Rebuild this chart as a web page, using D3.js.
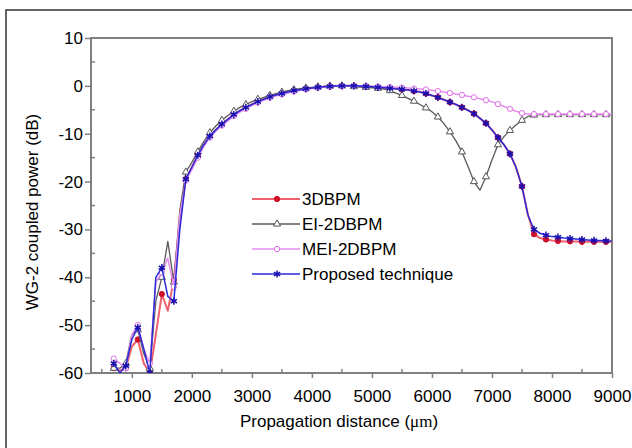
<!DOCTYPE html>
<html>
<head>
<meta charset="utf-8">
<script src="https://cdnjs.cloudflare.com/ajax/libs/d3/7.8.5/d3.min.js"></script>
<style>
  body { margin: 0; background: #fff; }
  svg { display: block; font-family: "Liberation Sans", Arial, sans-serif; }
</style>
</head>
<body>
<div id="chart"></div>
<script>
// propagation distance grid (um)
const dist = d3.range(700, 9001, 100)

const bpm3d = [
  -59, -59.5, -59, -54.5, -53, -58, -60, -52, -43.5, -47, -40.5, -28,
  -19.5, -17, -14.5, -12.3, -10.5, -9.2, -8, -7, -6, -5.2, -4.5, -3.9,
  -3.3, -2.8, -2.3, -1.9, -1.6, -1.3, -1.0, -0.8, -0.6, -0.45, -0.3, -0.2,
  -0.1, -0.05, 0, 0, 0, -0.05, -0.1, -0.2, -0.3, -0.4, -0.5, -0.6,
  -0.7, -0.85, -1.05, -1.3, -1.6, -2.0, -2.4, -2.9, -3.4, -3.9, -4.5, -5.1,
  -5.8, -6.8, -7.8, -9.2, -10.8, -12.3, -14.2, -17, -21, -27, -31, -31.8,
  -32.1, -32.3, -32.4, -32.5, -32.5, -32.5, -32.6, -32.6, -32.6, -32.6, -32.6, -32.6
]

const ei2d = [
  -59, -59, -58, -52, -51, -56, -59, -45, -40, -32.5, -41, -26,
  -18, -16, -13.8, -11.6, -9.8, -8.4, -7.2, -6.2, -5.3, -4.5, -3.9, -3.3,
  -2.8, -2.4, -2.0, -1.6, -1.3, -1.0, -0.8, -0.6, -0.45, -0.3, -0.2, -0.1,
  -0.05, 0, 0, -0.05, -0.15, -0.25, -0.3, -0.4, -0.5, -0.7, -1.0, -1.5,
  -2.0, -2.6, -3.2, -3.9, -4.6, -5.4, -6.5, -7.9, -9.6, -11.5, -13.8, -16.8,
  -20, -21.8, -19, -15.5, -12.3, -10.6, -9.3, -8.2, -7.2, -6.4, -6.1, -6.0,
  -6.0, -6.0, -6.0, -6.0, -6.0, -6.0, -6.0, -6.0, -6.0, -6.0, -6.0, -6.0
]

const mei2d = [
  -57, -58, -59, -52, -50, -55, -58, -41, -39, -36, -42, -27,
  -19.8, -17.5, -15, -12.7, -10.8, -9.5, -8.3, -7.3, -6.3, -5.5, -4.8, -4.1,
  -3.5, -3.0, -2.5, -2.1, -1.8, -1.5, -1.2, -0.95, -0.75, -0.55, -0.4, -0.3,
  -0.2, -0.1, -0.05, 0, 0, 0, -0.05, -0.1, -0.15, -0.2, -0.25, -0.3,
  -0.35, -0.45, -0.55, -0.65, -0.75, -0.9, -1.1, -1.3, -1.5, -1.7, -1.9, -2.15,
  -2.4, -2.7, -3.0, -3.3, -3.8, -4.3, -4.8, -5.3, -5.7, -5.9, -5.9, -5.9,
  -5.9, -5.9, -5.9, -5.9, -5.9, -5.9, -5.9, -5.9, -5.9, -5.9, -5.9, -5.9
]

const proposed = [
  -58, -60, -58.5, -53, -50.5, -55, -60, -40, -38, -44, -45, -30,
  -19.5, -17, -14.5, -12.3, -10.5, -9.2, -8, -7, -6, -5.2, -4.5, -3.9,
  -3.3, -2.8, -2.3, -1.9, -1.6, -1.3, -1.0, -0.8, -0.6, -0.45, -0.3, -0.2,
  -0.1, -0.05, 0, 0, 0, -0.05, -0.1, -0.2, -0.3, -0.4, -0.5, -0.6,
  -0.7, -0.85, -1.05, -1.3, -1.6, -2.0, -2.4, -2.9, -3.4, -3.9, -4.5, -5.1,
  -5.8, -6.8, -7.8, -9.2, -10.8, -12.3, -14.2, -17, -21, -27, -30, -30.8,
  -31.2, -31.5, -31.6, -31.8, -31.9, -32, -32.1, -32.2, -32.3, -32.3, -32.4, -32.4
]

const seriesNames = ["3DBPM", "EI-2DBPM", "MEI-2DBPM", "Proposed technique"]
const xTicks = [1000, 2000, 3000, 4000, 5000, 6000, 7000, 8000, 9000]
const yTicks = [10, 0, -10, -20, -30, -40, -50, -60]

const W = 632, H = 448
const plot = {left: 91, right: 612, top: 38, bottom: 373}

const svg = d3.select("#chart").append("svg")
    .attr("width", W)
    .attr("height", H)

// outer frame
svg.append("rect")
    .attr("x", 6).attr("y", 10)
    .attr("width", 640).attr("height", 450)
    .attr("fill", "none")
    .attr("stroke", "#333")
    .attr("stroke-width", 1.5)

const x = d3.scaleLinear().domain([320, 9000]).range([plot.left, plot.right])
const y = d3.scaleLinear().domain([-60, 10]).range([plot.bottom, plot.top])

// plot box
svg.append("rect")
    .attr("x", plot.left).attr("y", plot.top)
    .attr("width", plot.right - plot.left)
    .attr("height", plot.bottom - plot.top)
    .attr("fill", "none")
    .attr("stroke", "#808080")
    .attr("stroke-width", 2)

// axes
const xAxis = svg.append("g")
    .attr("transform", "translate(0," + plot.bottom + ")")
    .call(d3.axisBottom(x).tickValues(xTicks).tickSize(5).tickPadding(12).tickFormat(d => String(d)))
xAxis.selectAll(".tick line").attr("stroke", "#808080").attr("stroke-width", 1.5)
xAxis.select(".domain").remove()
xAxis.selectAll("text").attr("font-size", 17).attr("fill", "#000").attr("font-family", "Liberation Sans, Arial, sans-serif")

svg.append("g").selectAll("line")
    .data(d3.range(500, 9000, 1000))
    .join("line")
    .attr("x1", d => x(d)).attr("x2", d => x(d))
    .attr("y1", plot.bottom).attr("y2", plot.bottom - 4)
    .attr("stroke", "#808080").attr("stroke-width", 1.5)

const yAxis = svg.append("g")
    .attr("transform", "translate(" + plot.left + ",0)")
    .call(d3.axisLeft(y).tickValues(yTicks).tickSize(6).tickPadding(2).tickFormat(d => String(d)))
yAxis.selectAll(".tick line").attr("stroke", "#808080").attr("stroke-width", 1.5)
yAxis.select(".domain").remove()
yAxis.selectAll("text").attr("font-size", 17).attr("fill", "#000").attr("font-family", "Liberation Sans, Arial, sans-serif")

svg.append("g").selectAll("line")
    .data(d3.range(-55, 10, 10))
    .join("line")
    .attr("x1", plot.left).attr("x2", plot.left + 4)
    .attr("y1", d => y(d)).attr("y2", d => y(d))
    .attr("stroke", "#808080").attr("stroke-width", 1.5)

// axis titles
const xTitle = svg.append("text")
    .attr("x", 339).attr("y", 427)
    .attr("text-anchor", "middle")
    .attr("font-size", 17)
xTitle.append("tspan").text("Propagation distance (")
xTitle.append("tspan").attr("font-family", "Liberation Serif, serif").text("μm")
xTitle.append("tspan").text(")")

svg.append("text")
    .attr("transform", "translate(38,212) rotate(-90)")
    .attr("text-anchor", "middle")
    .attr("font-size", 17)
    .text("WG-2 coupled power (dB)")

// series styles
const styles = [
  {data: bpm3d, line: "#f0606e", width: 2, marker: "circle", mStroke: "#d0102a", mFill: "#d0102a"},
  {data: ei2d, line: "#5a5a5a", width: 1.3, marker: "triangle", mStroke: "#555", mFill: "#fff"},
  {data: mei2d, line: "#e68cf0", width: 1.5, marker: "circle", mStroke: "#e070e8", mFill: "#fff"},
  {data: proposed, line: "#2a2ad8", width: 1.5, marker: "star", mStroke: "#1a10b0", mFill: "#1a10b0"}
]

const line = d3.line()
    .x(d => x(d[0]))
    .y(d => y(d[1]))

const symbolOf = {
  circle: d3.symbol().type(d3.symbolCircle).size(22),
  triangle: d3.symbol().type(d3.symbolTriangle).size(22),
  star: d3.symbol().type(d3.symbolAsterisk).size(36)
}

svg.append("clipPath").attr("id", "clip")
    .append("rect")
    .attr("x", plot.left).attr("y", plot.top - 4)
    .attr("width", plot.right - plot.left + 4)
    .attr("height", plot.bottom - plot.top + 4)

const plotG = svg.append("g").attr("clip-path", "url(#clip)")

styles.forEach(function(s) {
    const pts = dist.map((d, i) => [d, s.data[i]])
    plotG.append("path")
        .datum(pts)
        .attr("fill", "none")
        .attr("stroke", s.line)
        .attr("stroke-width", s.width)
        .attr("stroke-linejoin", "round")
        .attr("d", line)
    plotG.append("g").selectAll("path")
        .data(pts.filter((d, i) => i % 2 === 0))
        .join("path")
        .attr("transform", d => "translate(" + x(d[0]) + "," + y(d[1]) + ")")
        .attr("d", symbolOf[s.marker])
        .attr("fill", s.mFill)
        .attr("stroke", s.mStroke)
        .attr("stroke-width", s.marker === "star" ? 1.5 : 1)
})

// legend
const legendY = [199, 224, 249, 274]
const legend = svg.append("g")
styles.forEach(function(s, i) {
    const g = legend.append("g").attr("transform", "translate(0," + legendY[i] + ")")
    g.append("line")
        .attr("x1", 252).attr("x2", 300)
        .attr("stroke", s.line).attr("stroke-width", s.width)
    g.append("path")
        .attr("transform", "translate(277,0)")
        .attr("d", symbolOf[s.marker])
        .attr("fill", s.mFill)
        .attr("stroke", s.mStroke)
        .attr("stroke-width", s.marker === "star" ? 1.5 : 1)
    g.append("text")
        .attr("x", 302).attr("y", 6)
        .attr("font-size", 17)
        .text(seriesNames[i])
})
</script>
</body>
</html>
